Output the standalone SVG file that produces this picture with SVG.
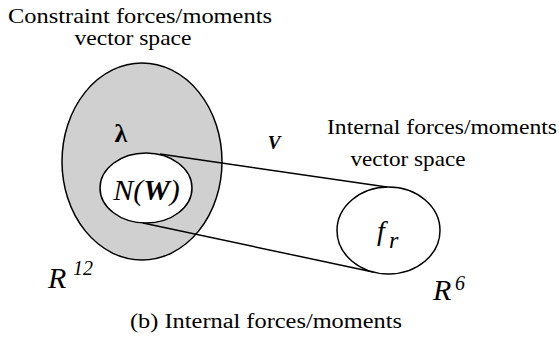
<svg xmlns="http://www.w3.org/2000/svg" width="559" height="340" viewBox="0 0 559 340">
<style>
.i{font-style:italic}
.b{font-weight:bold}
.e{stroke:#000;stroke-width:1.5}
</style>
<rect width="559" height="340" fill="#fff"/>
<g font-family="Liberation Serif, serif" fill="#000">
<g id="constraint-space">
<ellipse class="e" cx="142" cy="161.5" rx="80" ry="98.5" fill="#d0d0d0"/>
<text x="121" y="142" font-size="26" text-anchor="middle" font-weight="bold">λ</text>
<text class="i" x="48" y="288" font-size="30">R</text>
<text class="i" x="73" y="275" font-size="20">12</text>
</g>
<g id="connectors">
<line class="e" x1="160" y1="154" x2="387" y2="187"/>
<line class="e" x1="143" y1="223" x2="373" y2="272"/>
<text class="i b" x="274" y="149" font-size="19" text-anchor="middle">V</text>
</g>
<g id="nw">
<ellipse class="e" cx="146" cy="188" rx="46" ry="35" fill="#fff"/>
<text class="i" x="146.5" y="200" font-size="30" text-anchor="middle">N(<tspan font-weight="bold">W</tspan>)</text>
</g>
<g id="fr">
<ellipse class="e" cx="388.5" cy="230.5" rx="51.5" ry="43.5" fill="#fff"/>
<text class="i" x="377" y="240" font-size="28">f</text>
<text class="i" x="389" y="248" font-size="24">r</text>
<text class="i" x="433" y="300" font-size="30">R</text>
<text class="i" x="455" y="290" font-size="20">6</text>
</g>
<g id="labels">
<text x="140" y="23" font-size="21" text-anchor="middle" textLength="264" lengthAdjust="spacingAndGlyphs">Constraint forces/moments</text>
<text x="133" y="45" font-size="21" text-anchor="middle" textLength="117" lengthAdjust="spacingAndGlyphs">vector space</text>
<text x="442" y="134" font-size="21" text-anchor="middle" textLength="230" lengthAdjust="spacingAndGlyphs">Internal forces/moments</text>
<text x="408" y="166" font-size="21" text-anchor="middle" textLength="115" lengthAdjust="spacingAndGlyphs">vector space</text>
<text x="266" y="328" font-size="20" text-anchor="middle" textLength="272" lengthAdjust="spacingAndGlyphs">(b) Internal forces/moments</text>
</g>
</g>
</svg>
